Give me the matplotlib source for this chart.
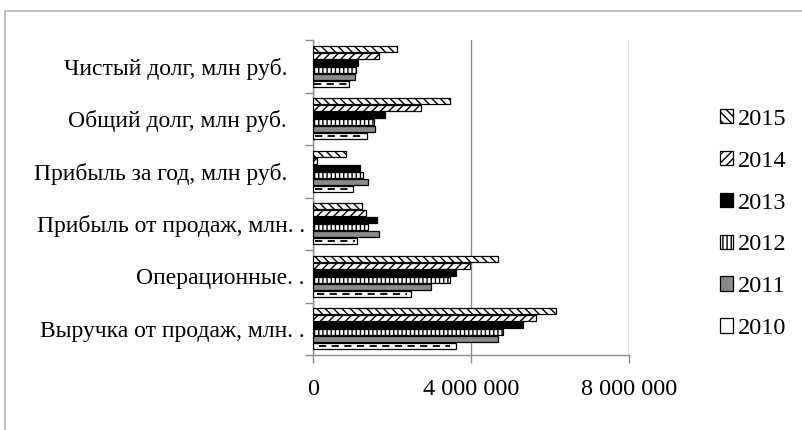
import numpy as np
import matplotlib.pyplot as plt
from matplotlib.patches import Rectangle
from matplotlib.ticker import FixedLocator, FuncFormatter

plt.rcParams['font.family'] = ['Liberation Serif', 'DejaVu Serif']
plt.rcParams['hatch.linewidth'] = 1.0

# Categories, bottom to top
categories = [
    'Выручка от продаж, млн. .',
    'Операционные. .',
    'Прибыль от продаж, млн. .',
    'Прибыль за год, млн руб.   ',
    'Общий долг, млн руб.   ',
    'Чистый долг, млн руб.   ',
]
years = ['2010', '2011', '2012', '2013', '2014', '2015']

# values per year, same order as categories
v2010 = [3620000, 2470000, 1120000, 1020000, 1360000, 900000]
v2011 = [4690000, 2980000, 1670000, 1380000, 1580000, 1060000]
v2012 = [4820000, 3470000, 1400000, 1270000, 1540000, 1090000]
v2013 = [5310000, 3620000, 1610000, 1190000, 1830000, 1130000]
v2014 = [5650000, 3970000, 1340000, 110000, 2730000, 1680000]
v2015 = [6140000, 4690000, 1250000, 830000, 3470000, 2120000]
series = [v2010, v2011, v2012, v2013, v2014, v2015]

styles = [
    dict(facecolor='white', hatch=None),
    dict(facecolor='#8a8a8a', hatch=None),
    dict(facecolor='white', hatch='||||'),
    dict(facecolor='black', hatch=None),
    dict(facecolor='white', hatch='////'),
    dict(facecolor='white', hatch='\\\\\\\\'),
]

fig = plt.figure(figsize=(8.03, 4.30), dpi=100)
ax = fig.add_axes([313 / 803, 75 / 430, 316 / 803, 315 / 430])

step = 0.80 / 6
h = step * 0.9
y = np.arange(len(categories))
bars = []
for j, (vals, st) in enumerate(zip(series, styles)):
    pos = y + (j - 2.5) * step
    b = ax.barh(pos, vals, height=h, facecolor=st['facecolor'], hatch=st['hatch'],
                edgecolor='black', linewidth=0.9, label=years[j], zorder=3)
    bars.append(b)
    if j == 0:
        # dashed line inside the 2010 bars
        ax.hlines(pos, np.array(vals) * 0.04, np.array(vals) * 0.96, colors='black',
                  linestyles=(0, (4, 3)), linewidth=1.3, zorder=4)

ax.set_xlim(0, 8000000)
ax.set_ylim(-0.5, 5.5)
ax.set_xticks([0, 4000000, 8000000])
ax.xaxis.set_major_formatter(FuncFormatter(lambda v, p: f'{int(v):,}'.replace(',', ' ')))
ax.grid(axis='x', color='#8c8c8c', linewidth=1.0, zorder=0)
ax.tick_params(axis='x', length=6, width=1, color='#8c8c8c', labelsize=17.5, pad=11)

ax.yaxis.set_major_locator(FixedLocator(np.arange(-0.5, 6.0, 1.0)))
ax.yaxis.set_major_formatter(FuncFormatter(lambda v, p: ''))
ax.yaxis.set_minor_locator(FixedLocator(y))
ax.set_yticklabels(categories, minor=True)
ax.tick_params(axis='y', which='major', length=6, width=1, color='#8c8c8c')
ax.tick_params(axis='y', which='minor', length=0, pad=6, labelsize=17)

for s in ['top', 'right']:
    ax.spines[s].set_visible(False)
for s in ['left', 'bottom']:
    ax.spines[s].set_color('#8c8c8c')
    ax.spines[s].set_linewidth(1.0)

handles = bars[::-1]
fig.legend(handles, years[::-1], loc='center left', bbox_to_anchor=(710 / 803, (430 - 224) / 430),
           frameon=False, fontsize=17.5, handlelength=0.55, handleheight=0.55,
           handletextpad=0.2, labelspacing=0.86, borderaxespad=0)

fig.patches.append(Rectangle((5 / 803, -0.1), 1.2, (430 - 11) / 430 + 0.1,
                             transform=fig.transFigure, fill=False,
                             edgecolor='#b4b4b4', linewidth=1.2))

fig.savefig('out.png', dpi=100)
